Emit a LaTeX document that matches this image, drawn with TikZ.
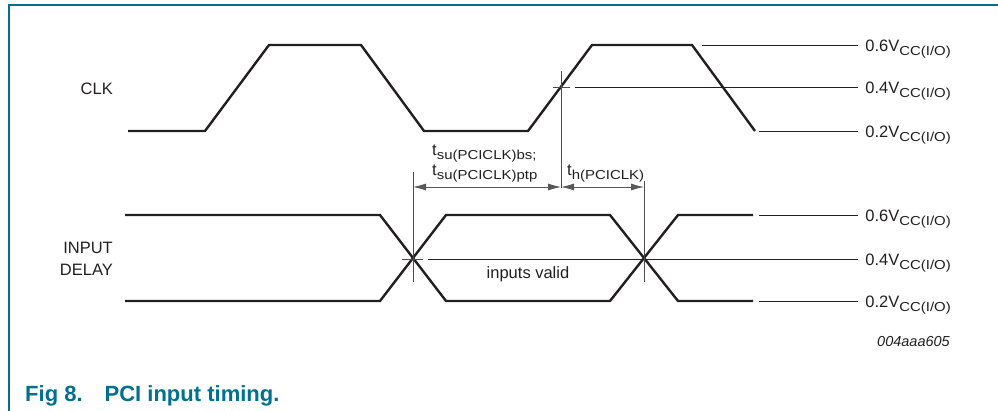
\documentclass[tikz,border=0pt]{standalone}
\usepackage{fontspec}
\setmainfont{Liberation Sans}
\usetikzlibrary{arrows.meta,positioning}
\definecolor{nxpteal}{RGB}{0,112,145}
\definecolor{ink}{RGB}{35,31,32}
\newcommand{\lo}[1]{\raisebox{-4pt}{\scalebox{1.15}[1]{\fontsize{13}{13}\selectfont #1}}}
\tikzset{
  wave/.style={draw=ink, line width=2.4pt, line join=miter},
  level/.style={draw=ink, line width=0.8pt},
  cross/.style={draw=ink!80, line width=0.8pt},
  dim/.style={draw=ink!75, line width=0.8pt, {Latex[length=13pt,width=7pt]}-{Latex[length=13pt,width=7pt]}},
  txt/.style={text=ink, font=\fontsize{16.5}{20}\selectfont, inner sep=0pt}
}
\begin{document}
\begin{tikzpicture}[x=1pt,y=-1pt]
\useasboundingbox (0,0) rectangle (998,411);
\draw[nxpteal, line width=2pt] (9,411) -- (9,5.5) -- (998,5.5);
\draw[wave] (128,131) -- (205,131) -- (269,45) -- (361,45) -- (424,131) -- (528,131) -- (592,45) -- (692,45) -- (755,131);
\draw[wave] (125,215) -- (380,215) -- (446,301) -- (610,301) -- (678,215) -- (753,215);
\draw[wave] (125,301) -- (380,301) -- (446,215) -- (610,215) -- (678,301) -- (753,301);
\coordinate (clk) at (561,87);
\coordinate (su) at (413,259);
\coordinate (hd) at (644,259);
\coordinate (d) at (0,187);
\foreach \y/\v/\x [count=\i] in {45/0.6/702,87/0.4/575,131/0.2/759,215/0.6/759,259/0.4/428,301/0.2/759}{
  \draw[level] (\x,\y) -- (858,\y) node[txt, anchor=base west, xshift=7pt, yshift=-7pt] (lv\i) {\v V\lo{CC(I/O)}};
}
\draw[cross] ([xshift=-8pt]clk) -- ([xshift=9pt]clk) ([yshift=16pt]clk) -- ([yshift=-101pt]clk);
\draw[cross] ([xshift=-11pt]su) -- ([xshift=10pt]su) ([yshift=87pt]su) -- ([yshift=-23pt]su);
\draw[cross] ([yshift=78pt]hd) -- ([yshift=-23pt]hd);
\draw[dim] (su |- d) -- (clk |- d);
\draw[dim] (clk |- d) -- (hd |- d);
\node[txt, anchor=east] (clklbl) at (113,89) {CLK};
\node[txt, anchor=east, align=right, font=\fontsize{16.5}{22}\selectfont] (inlbl) at (113,259) {INPUT\\DELAY};
\node[txt, anchor=base west, align=left] (tsu) at (432,176) {t\lo{su(PCICLK)bs;}\\t\lo{su(PCICLK)ptp}};
\node[txt, anchor=base west] (th) at (567,176) {t\lo{h(PCICLK)}};
\node[txt, anchor=base] (valid) at (528,279) {inputs valid};
\node[txt, anchor=base east, font=\fontsize{14.5}{16}\selectfont\itshape] (code) at (950,347) {004aaa605};
\node[anchor=base west, inner sep=0pt, text=nxpteal, font=\fontsize{22}{26}\selectfont\bfseries] (cap) at (25,401) {Fig 8.\hspace{22pt}PCI input timing.};
\end{tikzpicture}
\end{document}
